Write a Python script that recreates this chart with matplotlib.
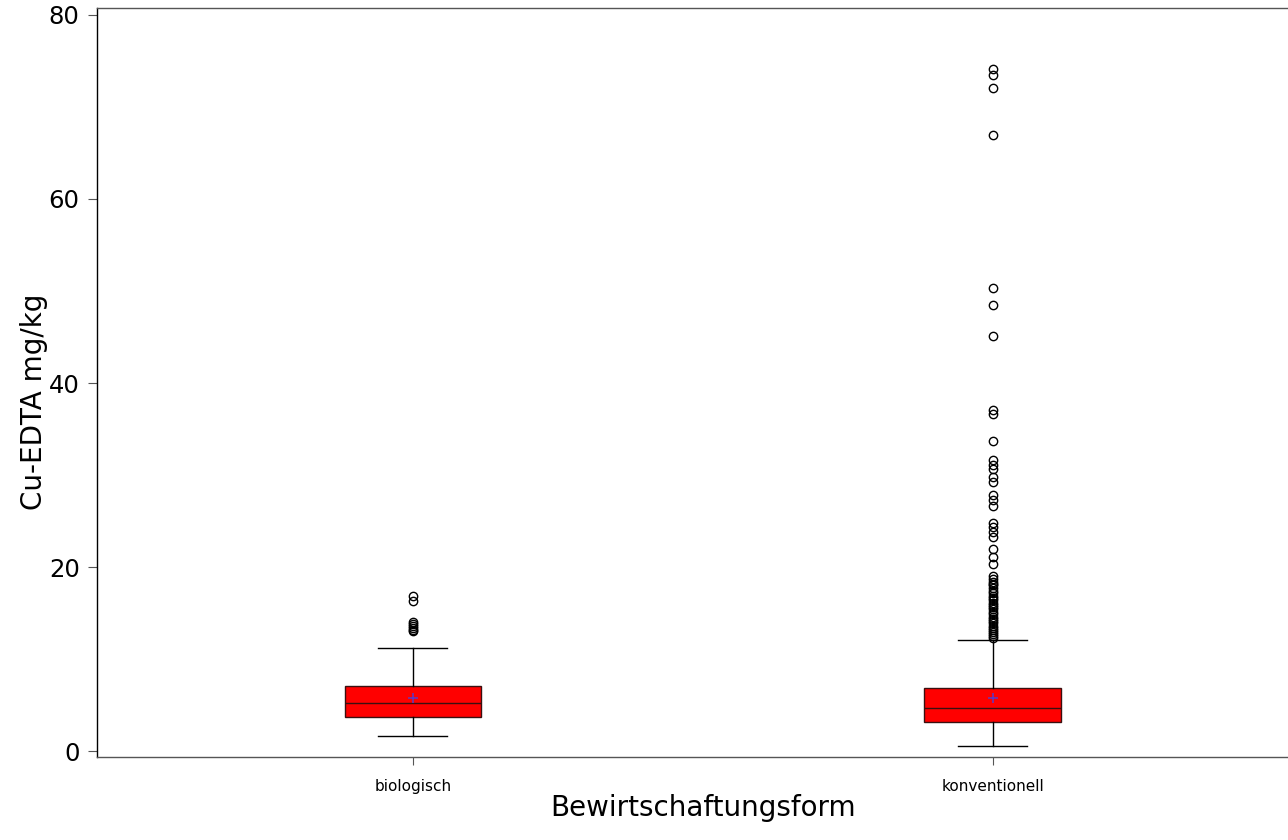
import numpy as np
import matplotlib.pyplot as plt
from matplotlib import font_manager

# Cu-EDTA (mg/kg) summary per management type
kategorien = ['biologisch', 'konventionell']
q1 = [3.73, 3.19]
median = [5.18, 4.71]
q3 = [7.10, 6.82]
mittel = [5.76, 5.80]
whisker_unten = [1.67, 0.54]
whisker_oben = [11.23, 12.07]

ausreisser_bio = [16.9, 16.3, 14.0, 13.8, 13.6, 13.4, 13.2, 13.0]
ausreisser_konv = [74.1, 73.5, 72.1, 67.0, 50.3, 48.5, 45.1, 37.1, 36.6, 33.7,
                   31.6, 31.1, 30.6, 29.8, 29.2, 27.8, 27.3, 26.6, 24.8, 24.3,
                   23.8, 23.3, 22.0, 21.1, 20.3,
                   19.0, 18.7, 18.4, 18.2, 18.0, 17.7, 17.4, 17.2, 16.9, 16.6,
                   16.4, 16.1, 15.9, 15.6, 15.4, 15.1, 14.9, 14.6, 14.4, 14.1,
                   13.9, 13.6, 13.4, 13.1, 12.9, 12.7, 12.5, 12.3]
ausreisser = [ausreisser_bio, ausreisser_konv]

stats = []
for i, name in enumerate(kategorien):
    stats.append({'label': name, 'q1': q1[i], 'med': median[i], 'q3': q3[i],
                  'mean': mittel[i], 'whislo': whisker_unten[i],
                  'whishi': whisker_oben[i], 'fliers': np.array(ausreisser[i])})

installed = {f.name for f in font_manager.fontManager.ttflist}
narrow = 'Liberation Sans Narrow' if 'Liberation Sans Narrow' in installed else 'DejaVu Sans'

fig = plt.figure(figsize=(12.88, 8.4), dpi=100)
ax = fig.add_axes([0.0753, 0.0988, 0.93, 0.8917])

ax.bxp(stats, positions=[1, 2], widths=0.236, capwidths=0.119,
       showmeans=True, patch_artist=True,
       boxprops=dict(facecolor='#ff0000', edgecolor='#3a1010', linewidth=1),
       medianprops=dict(color='#3a1010', linewidth=1),
       whiskerprops=dict(color='black', linewidth=1),
       capprops=dict(color='black', linewidth=1),
       meanprops=dict(marker='+', markeredgecolor='#5a3ac8', markersize=7,
                      markeredgewidth=1.1),
       flierprops=dict(marker='o', markerfacecolor='none', markeredgecolor='black',
                       markersize=6, markeredgewidth=1))

ax.set_xlim(0.455, 2.521)
ax.set_ylim(-0.65, 80.76)
ax.set_yticks([0, 20, 40, 60, 80])
ax.tick_params(axis='y', labelsize=17.5, length=6.5, width=0.8, color='#555555', pad=6)
ax.tick_params(axis='x', length=6, width=0.8, color='#555555', pad=10)
for lab in ax.get_xticklabels():
    lab.set_fontfamily(narrow)
    lab.set_fontsize(11)

ax.spines['right'].set_visible(False)
for s in ['left', 'bottom', 'top']:
    ax.spines[s].set_linewidth(1)
ax.spines['top'].set_color('#555555')
ax.spines['bottom'].set_color('#555555')

ax.set_xlabel('Bewirtschaftungsform', fontsize=20)
ax.set_ylabel('Cu-EDTA mg/kg', fontsize=20)
ax.xaxis.set_label_coords(0.506, -0.049)
ax.yaxis.set_label_coords(-0.041, 0.474)

fig.savefig('out.png', dpi=100)
